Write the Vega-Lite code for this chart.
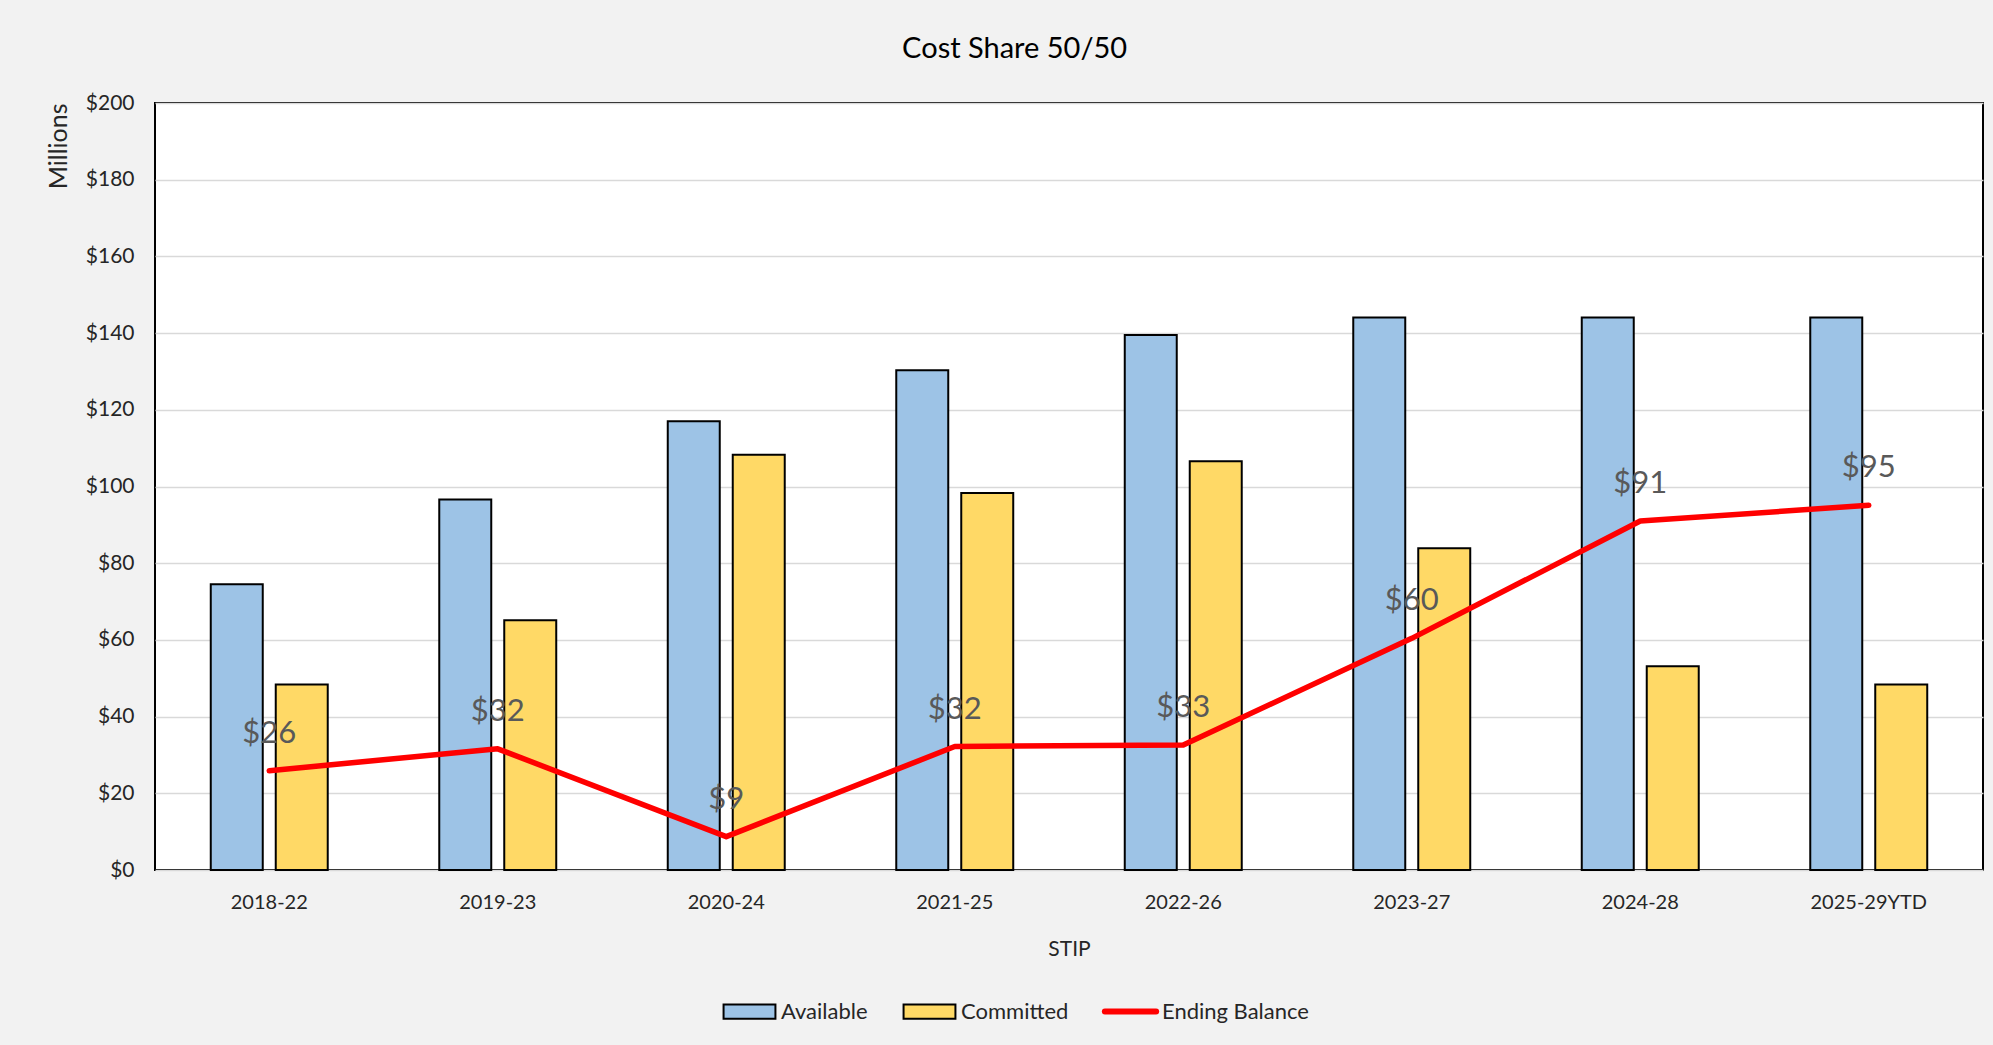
{
  "$schema": "https://vega.github.io/schema/vega-lite/v6.json",
  "autosize": "none",
  "width": 1828,
  "height": 767,
  "padding": {"left": 155, "top": 103, "right": 10, "bottom": 175},
  "background": "#F2F2F2",
  "title": {
    "text": "Cost Share 50/50",
    "font": "Lato",
    "fontSize": 29,
    "fontWeight": "normal",
    "color": "#000000",
    "anchor": "middle",
    "frame": "bounds",
    "offset": 28
  },
  "config": {
    "font": "Lato",
    "view": {"fill": "#FFFFFF", "stroke": "#000000", "strokeWidth": 2},
    "axis": {"labelFont": "Lato", "titleFont": "Lato", "labelColor": "#262626", "titleColor": "#262626"}
  },
  "data": {
    "values": [
      {"stip": "2018-22", "Available": 74.5, "Committed": 48.4, "balance": 25.9},
      {"stip": "2019-23", "Available": 96.6, "Committed": 65.1, "balance": 31.6},
      {"stip": "2020-24", "Available": 117.0, "Committed": 108.3, "balance": 8.7},
      {"stip": "2021-25", "Available": 130.3, "Committed": 98.3, "balance": 32.2},
      {"stip": "2022-26", "Available": 139.5, "Committed": 106.6, "balance": 32.6},
      {"stip": "2023-27", "Available": 144.1, "Committed": 83.9, "balance": 60.4},
      {"stip": "2024-28", "Available": 144.1, "Committed": 53.1, "balance": 91.0},
      {"stip": "2025-29YTD", "Available": 144.1, "Committed": 48.4, "balance": 95.1}
    ]
  },
  "encoding": {
    "x": {
      "field": "stip",
      "type": "nominal",
      "sort": null,
      "scale": {"paddingInner": 0, "paddingOuter": 0},
      "axis": {
        "title": "STIP",
        "labelAngle": 0,
        "labelFontSize": 20,
        "titleFontSize": 21,
        "titleFontWeight": "normal",
        "labelPadding": 22,
        "titlePadding": 26,
        "ticks": false,
        "tickSize": 0,
        "domain": false,
        "grid": false
      }
    }
  },
  "layer": [
    {
      "transform": [{"fold": ["Available", "Committed"], "as": ["series", "value"]}],
      "mark": {"type": "bar", "stroke": "#000000", "strokeWidth": 2},
      "encoding": {
        "xOffset": {
          "field": "series",
          "type": "nominal",
          "scale": {"paddingInner": 0.2, "paddingOuter": 0.858}
        },
        "y": {
          "field": "value",
          "type": "quantitative",
          "scale": {"domain": [0, 200], "nice": false},
          "axis": {
            "title": "Millions",
            "titleAnchor": "end",
            "titleFontSize": 25,
            "titleFontWeight": "normal",
            "titlePadding": 14,
            "values": [0, 20, 40, 60, 80, 100, 120, 140, 160, 180, 200],
            "format": "$.0f",
            "labelFontSize": 21,
            "labelPadding": 21,
            "ticks": false,
            "tickSize": 0,
            "domain": false,
            "gridColor": "#D9D9D9",
            "gridWidth": 1.5
          }
        },
        "fill": {
          "field": "series",
          "type": "nominal",
          "scale": {
            "domain": ["Available", "Committed"],
            "range": ["#9DC3E6", "#FFD966"]
          },
          "legend": {
            "title": null,
            "orient": "none",
            "legendX": 565,
            "legendY": 879,
            "direction": "horizontal",
            "padding": 0,
            "labelFont": "Lato",
            "labelFontSize": 22,
            "labelColor": "#262626",
            "labelOffset": 2,
            "columnPadding": 31,
            "symbolSize": 3249,
            "symbolType": "M-0.91,-0.25H0.91V0.25H-0.91Z",
            "symbolStrokeWidth": 2,
            "symbolStrokeColor": "#000000",
            "symbolOpacity": 1,
            "encode": {
              "symbols": {
                "update": {
                  "stroke": {"value": "#000000"},
                  "strokeWidth": {"value": 2},
                  "fillOpacity": {"value": 1}
                }
              }
            }
          }
        }
      }
    },
    {
      "mark": {"type": "line", "strokeWidth": 5.5, "strokeCap": "round", "strokeJoin": "round"},
      "encoding": {
        "y": {"field": "balance", "type": "quantitative"},
        "stroke": {
          "datum": "Ending Balance",
          "scale": {"domain": ["Ending Balance"], "range": ["#FF0000"]},
          "legend": {
            "title": null,
            "orient": "none",
            "legendX": 944,
            "legendY": 877,
            "direction": "horizontal",
            "padding": 0,
            "labelFont": "Lato",
            "labelFontSize": 22,
            "labelColor": "#262626",
            "labelOffset": 0,
            "symbolSize": 3249,
            "symbolType": "M-0.9,0H0.9",
            "symbolStrokeWidth": 6,
            "encode": {
              "symbols": {
                "update": {
                  "strokeWidth": {"value": 6},
                  "strokeCap": {"value": "round"}
                }
              }
            }
          }
        }
      }
    },
    {
      "mark": {"type": "text", "font": "Lato", "fontSize": 31, "color": "#595959", "dy": -37, "baseline": "middle", "align": "center"},
      "encoding": {
        "y": {"field": "balance", "type": "quantitative"},
        "text": {"field": "balance", "type": "quantitative", "format": "$.0f"}
      }
    }
  ]
}
